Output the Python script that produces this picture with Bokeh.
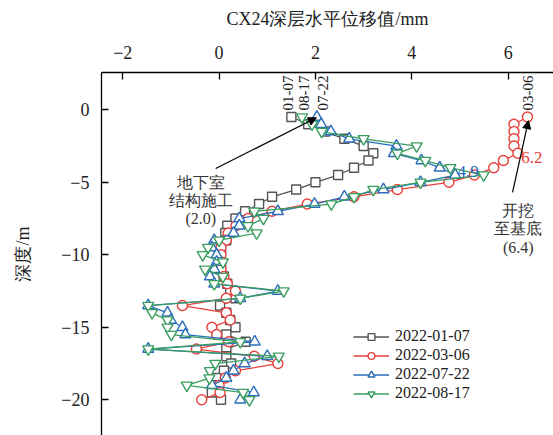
import numpy as np
from bokeh.plotting import figure
from bokeh.models import LinearAxis, Range1d, Arrow, NormalHead, Legend, LegendItem, Label, FixedTicker
from bokeh.embed import file_html
from bokeh.resources import INLINE

depth = [-0.5, -1.0, -1.5, -2.0, -2.5, -3.0, -3.5, -4.0, -4.5, -5.0,
         -5.5, -6.0, -6.5, -7.0, -7.5, -8.0, -8.5, -9.0, -9.5, -10.0,
         -10.5, -11.0, -11.5, -12.0, -12.5, -13.0, -13.5, -14.0, -14.5, -15.0,
         -15.5, -16.0, -16.5, -17.0, -17.5, -18.0, -18.5, -19.0, -19.5, -20.0]

d0107 = [1.5, 1.85, 2.2, 2.6, 3.0, 3.2, 3.1, 2.8, 2.47, 2.0,
         1.6, 1.1, 0.83, 0.54, 0.34, 0.17, 0.13, 0.15, 0.04, 0.04,
         0.04, 0.04, 0.1, 0.17, 0.23, 0.34, 0.02, 0.15, 0.23, 0.34,
         0.15, 0.55, 0.15, 0.15, 0.25, 0.1, -0.06, -0.12, -0.15, 0.04]

d0306 = [6.4, 6.12, 6.12, 6.12, 6.12, 6.2, 5.9, 5.7, 5.3, 4.77,
         3.7, 2.8, 1.83, 1.1, 0.6, 0.35, 0.19, 0.15, 0.04, 0.04,
         0.04, 0.04, 0.1, 0.17, 0.34, 0.15, -0.76, 0.15, 0.23, -0.15,
         -0.05, 0.2, -0.47, 0.73, 1.22, 0.34, 0.13, 0.0, 0.02, -0.36]

d0722 = [2.03, 2.12, 2.32, 2.7, 3.68, 3.63, 4.2, 4.58, 4.9, 4.18,
         3.41, 2.6, 1.98, 1.22, 0.42, 0.42, 0.3, -0.1, -0.15, -0.05,
         -0.05, -0.1, -0.19, -0.1, 1.22, 0.44, -1.47, -1.07, -1.0, -0.76,
         -0.7, 0.74, -1.47, 1.0, 0.53, 0.3, 0.15, -0.15, 0.72, 0.44]

d0817 = [1.72, 1.93, 2.13, 3.0, 4.1, 3.7, 4.28, 4.8, 5.49, 4.18,
         3.2, 2.8, 2.33, 0.73, 0.92, 0.6, 0.78, 0.0, -0.23, -0.34,
         0.08, -0.29, 0.08, -0.1, 1.34, 0.44, -1.47, -1.39, -1.07, -1.07,
         -0.99, 0.44, -1.47, 1.24, -0.08, -0.19, -0.2, -0.67, 0.5, 0.63]

series_names = ["2022-01-07", "2022-03-06", "2022-07-22", "2022-08-17"]
x_ticks = [-2, 0, 2, 4, 6]
y_ticks = [0, -5, -10, -15, -20]

SERIF = "Liberation Serif"

p = figure(width=553, height=435, output_backend="svg", toolbar_location=None,
           x_range=Range1d(-2.44, 6.94), y_range=Range1d(-22.46, 2.57),
           x_axis_location=None, min_border_left=101, min_border_top=72,
           min_border_right=0, min_border_bottom=0)
p.outline_line_color = None
p.xgrid.visible = False
p.ygrid.visible = False
p.background_fill_color = "white"

# top axis
top = LinearAxis(ticker=FixedTicker(ticks=x_ticks),
                 major_label_overrides={t: (str(t).replace("-", "\u2212")) for t in x_ticks},
                 axis_label="CX24深层水平位移值/mm")
p.add_layout(top, "above")

for ax in [top, p.yaxis[0]]:
    ax.axis_line_color = "black"
    ax.axis_line_width = 1.3
    ax.major_tick_line_color = "black"
    ax.major_tick_line_width = 1.3
    ax.major_tick_in = 7
    ax.major_tick_out = 0
    ax.minor_tick_line_color = None
    ax.major_label_text_font = SERIF
    ax.major_label_text_font_size = "18px"
    ax.major_label_text_color = "#222222"
    ax.axis_label_text_font = SERIF
    ax.axis_label_text_font_size = "18px"
    ax.axis_label_text_font_style = "normal"
    ax.axis_label_text_color = "#222222"

top.major_label_standoff = 14
top.axis_label_standoff = 14

yax = p.yaxis[0]
yax.ticker = FixedTicker(ticks=y_ticks)
yax.major_label_overrides = {t: (str(t).replace("-", "\u2212")) for t in y_ticks}
yax.axis_label = "深度/m"
yax.major_label_standoff = 12
yax.axis_label_standoff = 25

colors = ["#555555", "#e8413c", "#2a6ebb", "#3a9e5f"]
markers = ["square", "circle", "triangle", "inverted_triangle"]
sizes = [9, 10, 11, 11]
data = [d0107, d0306, d0722, d0817]

items = []
for name, col, mk, sz, vals in zip(series_names, colors, markers, sizes, data):
    ln = p.line(vals, depth, line_color=col, line_width=1.3)
    sc = p.scatter(vals, depth, marker=mk, size=sz, line_color=col, line_width=1.4,
                   fill_color="white")
    items.append(LegendItem(label=name, renderers=[ln, sc]))

legend = Legend(items=items, location=(252, 33), background_fill_alpha=0,
                border_line_color=None, glyph_width=36, glyph_height=17,
                label_height=17, spacing=1, padding=0, margin=0,
                label_text_font=SERIF, label_text_font_size="16px",
                label_text_color="#222222", label_standoff=6)
p.add_layout(legend)

# date labels rotated
for x, t in [(1.44, "01-07"), (1.76, "08-17"), (2.15, "07-22"), (6.42, "03-06")]:
    p.add_layout(Label(x=x, y=-0.05, text=t, angle=np.pi / 2, text_align="left",
                       text_baseline="middle", text_font=SERIF, text_font_size="15px",
                       text_color="#222222"))

p.add_layout(Label(x=6.27, y=-3.3, text="6.2", text_align="left", text_baseline="middle",
                   text_font=SERIF, text_font_size="17px", text_color="#e8413c"))
p.add_layout(Label(x=4.95, y=-4.25, text="4.9", text_align="left", text_baseline="middle",
                   text_font=SERIF, text_font_size="17px", text_color="#2a6ebb"))

for y, t in [(-4.99, "地下室"), (-6.23, "结构施工"), (-7.47, "(2.0)")]:
    p.add_layout(Label(x=-0.38, y=y, text=t, text_align="center", text_baseline="middle",
                       text_font=SERIF, text_font_size="16px", text_color="#333333"))

for y, t in [(-6.94, "开挖"), (-8.19, "至基底"), (-9.5, "(6.4)")]:
    p.add_layout(Label(x=6.21, y=y, text=t, text_align="center", text_baseline="middle",
                       text_font=SERIF, text_font_size="16px", text_color="#333333"))

p.add_layout(Arrow(x_start=-0.07, y_start=-4.05, x_end=2.02, y_end=-0.55,
                   line_color="black", line_width=1.2,
                   end=NormalHead(size=8, fill_color="black", line_color="black")))
p.add_layout(Arrow(x_start=6.09, y_start=-5.7, x_end=6.42, y_end=-0.75,
                   line_color="black", line_width=1.2,
                   end=NormalHead(size=8, fill_color="black", line_color="black")))

open("out.html", "w").write(file_html(p, INLINE))
